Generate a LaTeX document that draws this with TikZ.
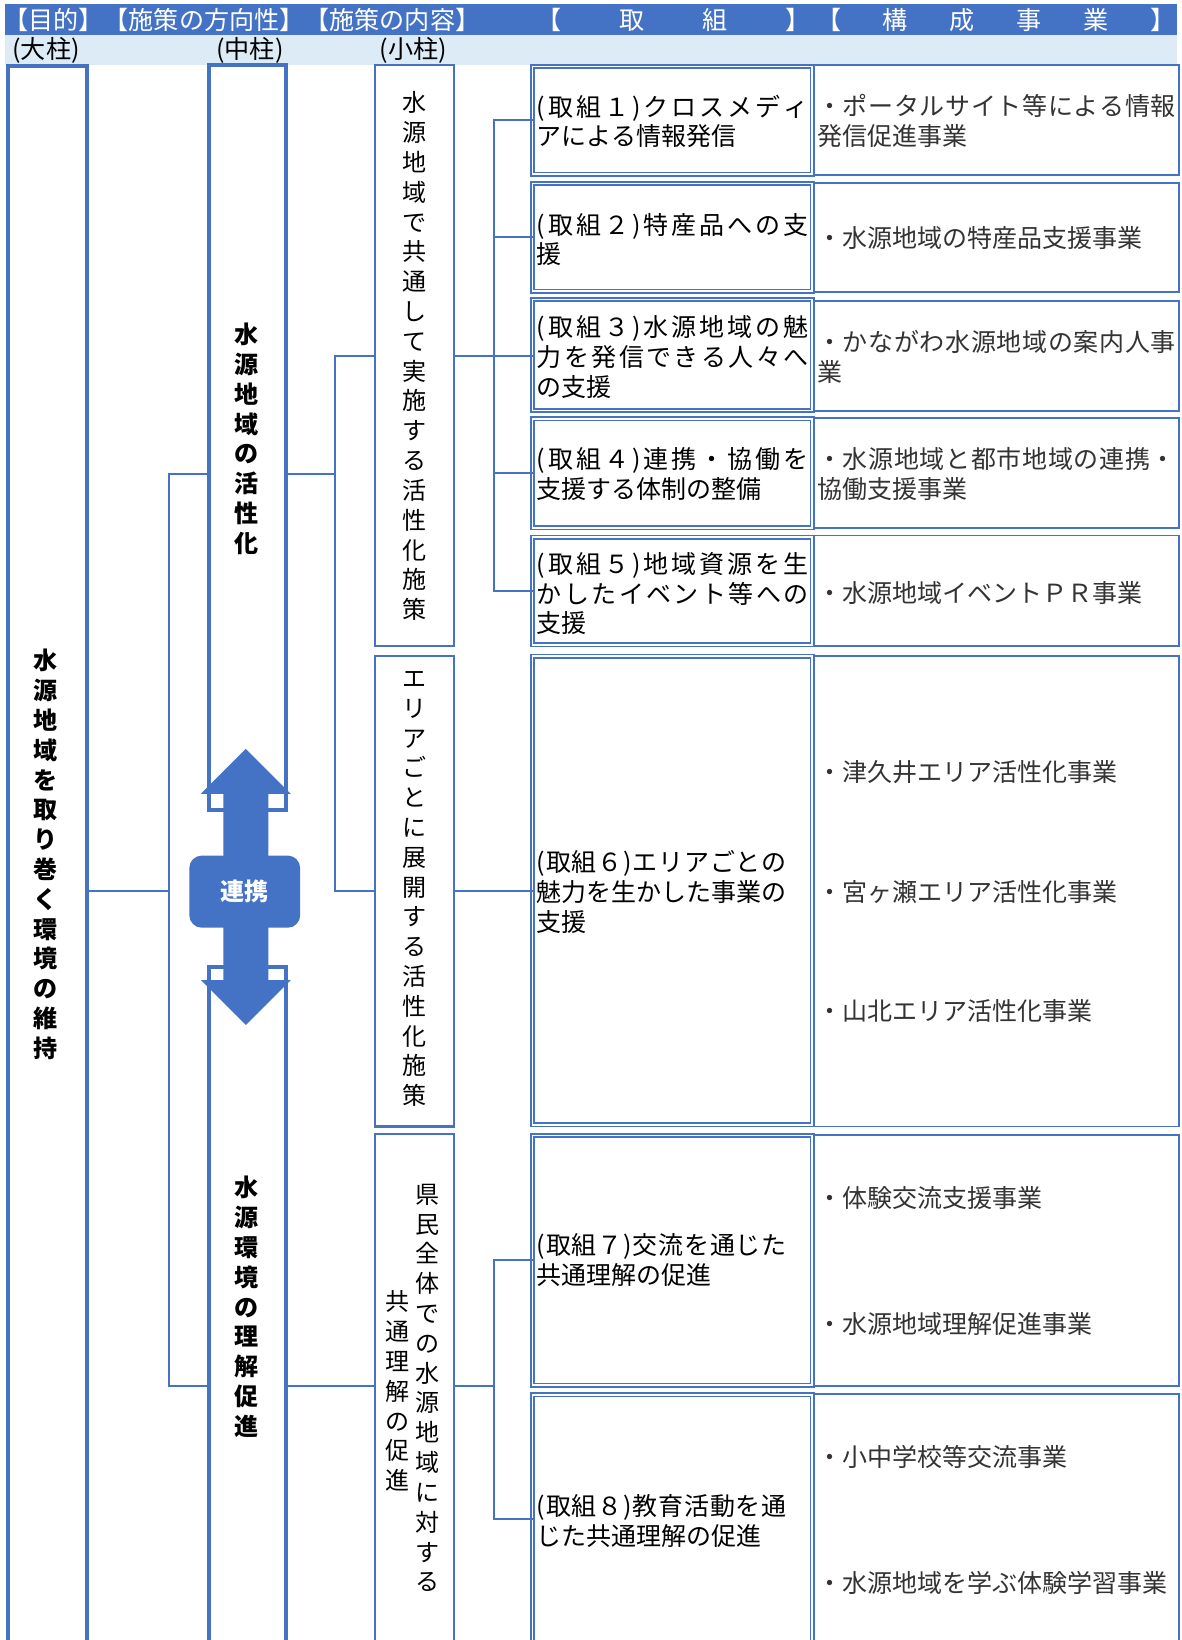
\documentclass[tikz,border=0pt]{standalone}
\usepackage{fontspec}
\setmainfont{Noto Sans CJK JP}
\definecolor{bl}{HTML}{4472C4}
\definecolor{lb}{HTML}{DDEBF7}
\makeatletter
\newcommand\spr[2]{\hbox to #1pt{\spr@a#2\relax}}
\def\spr@a#1{#1\futurelet\spr@next\spr@b}
\def\spr@b{\ifx\spr@next\relax\expandafter\@gobble\else\hfil\expandafter\spr@a\fi}
\newcommand\vt[1]{\vbox{\baselineskip=28.5pt\lineskiplimit=-100pt\lineskip=0pt\vt@a#1\relax}}
\def\vt@a#1{\ifx\relax#1\else\hbox to 1em{\hss#1\hss}\expandafter\vt@a\fi}
\makeatother
\begin{document}
\begin{tikzpicture}[x=1pt,y=-1pt,
 box/.style={draw=bl, anchor=north west, inner sep=0pt, outer sep=0pt, fill=white},
 thickbox/.style={box, line width=3.8pt},
 thinbox/.style={box, line width=2pt},
 dblbox/.style={box, line width=1.6pt, double=white, double distance=1.6pt},
 bizbox/.style={box, line width=1.8pt},
 conn/.style={draw=bl, line width=1.8pt},
 hdr/.style={anchor=west, inner sep=0pt, text=white, font=\fontsize{24}{28}\selectfont},
 sub/.style={inner sep=0pt, font=\fontsize{24}{28}\selectfont},
 jtext/.style={anchor=west, inner sep=0pt, align=left, font=\fontsize{23.9}{28.5}\selectfont},
 btext/.style={jtext, text=black!80},
 vtext/.style={inner sep=0pt, font=\fontsize{23}{28.5}\selectfont},
 vbold/.style={inner sep=0pt, font=\fontsize{23}{28.5}\selectfont\bfseries},
]
\useasboundingbox (0,0) rectangle (1129.2,1568);
\clip (0,0) rectangle (1129.2,1568);
% header bars
\fill[bl] (5,4) rectangle (1125,33);
\fill[lb] (5,33) rectangle (1125,62);
\node[hdr] (h1) at (3,19) {\spr{444}{【目的】【施策の方向性】【施策の内容】}};
\node[hdr] (h2) at (513,19) {\spr{262}{【取組】}};
\node[hdr] (h3) at (780,19) {\spr{344}{【構成事業】}};
\node[sub] (s1) at (44,48) {(大柱)};
\node[sub] (s2) at (239,48) {(中柱)};
\node[sub] (s3) at (395,48) {(小柱)};
% boxes
\node[thickbox, minimum width=75, minimum height=1520] (dai) at (8,63) {};
\node[thickbox, minimum width=74, minimum height=712] (chu1) at (199.5,62.5) {};
\node[thickbox, minimum width=74, minimum height=660] (chu2) at (199.5,924.5) {};
\node[thinbox, minimum width=75.5, minimum height=555.5] (sho1) at (358.5,62.5) {};
\node[thinbox, minimum width=75.5, minimum height=450] (sho2) at (358.5,627) {};
\node[thinbox, minimum width=75.5, minimum height=500] (sho3) at (358.5,1084) {};
\node[dblbox, minimum width=267.4, minimum height=103] (k1) at (509.2,63.5) {};
\node[dblbox, minimum width=267.4, minimum height=103] (k2) at (509.2,175.5) {};
\node[dblbox, minimum width=267.4, minimum height=106] (k3) at (509.2,286.5) {};
\node[dblbox, minimum width=267.4, minimum height=104] (k4) at (509.2,400.5) {};
\node[dblbox, minimum width=267.4, minimum height=103] (k5) at (509.2,513.5) {};
\node[dblbox, minimum width=267.4, minimum height=448] (k6) at (509.2,627.5) {};
\node[dblbox, minimum width=267.4, minimum height=239] (k7) at (509.2,1085.5) {};
\node[dblbox, minimum width=267.4, minimum height=238] (k8) at (509.2,1333.5) {};
\node[bizbox, minimum width=348.5, minimum height=104.5] (j1) at (778.5,62.5) {};
\node[bizbox, minimum width=348.5, minimum height=104] (j2) at (778.5,175) {};
\node[bizbox, minimum width=348.5, minimum height=105] (j3) at (778.5,288) {};
\node[bizbox, minimum width=348.5, minimum height=105] (j4) at (778.5,400) {};
\node[bizbox, minimum width=348.5, minimum height=106] (j5) at (778.5,512) {};
\node[bizbox, minimum width=348.5, minimum height=450] (j6) at (778.5,627) {};
\node[bizbox, minimum width=348.5, minimum height=240] (j7) at (778.5,1085) {};
\node[bizbox, minimum width=348.5, minimum height=238] (j8) at (778.5,1333) {};
% connectors
\coordinate (a) at (162,852);
\coordinate (a1) at (162,453);
\coordinate (a2) at (162,1325);
\coordinate (b1) at (320,340);
\coordinate (b2) at (320,852);
\coordinate (c) at (472,0);
\draw[conn] (dai.east |- a) -- (a);
\draw[conn] (chu1.west |- a1) -| (a2) -- (chu2.west |- a2);
\draw[conn] (chu1.east |- a1) -- (b1 |- a1);
\draw[conn] (sho1.west) -| (b2) -- (sho2.west);
\draw[conn] (sho1.east) -- (k3.west |- sho1.east);
\draw[conn] (k1.west) -| (c |- k5.west) -- (k5.west);
\draw[conn] (c |- k2.west) -- (k2.west);
\draw[conn] (c |- k4.west) -- (k4.west);
\draw[conn] (sho2.east) -- (k6.west |- sho2.east);
\draw[conn] (chu2.east |- a2) -- (sho3.west |- a2);
\draw[conn] (sho3.east |- a2) -- (c |- a2);
\draw[conn] (k7.west) -| (c |- k8.west) -- (k8.west);
% double arrow
\fill[bl] (235,716) -- (278,759) -- (256.5,759) -- (256.5,937) -- (278,937) -- (235,980) -- (192,937) -- (213.5,937) -- (213.5,759) -- (192,759) -- cycle;
\node[fill=bl, rounded corners=12pt, minimum width=106, minimum height=69, inner sep=0pt, text=white, font=\fontsize{23}{28}\selectfont\bfseries] (rk) at (234,852.5) {連携};
% vertical texts
\node[vbold] (tdai) at (44,817) {\vt{水源地域を取り巻く環境の維持}};
\node[vbold] (tchu1) at (236,419.5) {\vt{水源地域の活性化}};
\node[vbold] (tchu2) at (236,1249.5) {\vt{水源環境の理解促進}};
\node[vtext] (tsho1) at (396,340.5) {\vt{水源地域で共通して実施する活性化施策}};
\node[vtext] (tsho2) at (396,850) {\vt{エリアごとに展開する活性化施策}};
\node[vtext] (tsho3a) at (409,1327) {\vt{県民全体での水源地域に対する}};
\node[vtext] (tsho3b) at (380,1330) {\vt{共通理解の促進}};
% 取組 texts
\node[jtext] (t1) at (513,116) {\spr{260}{(取組１)クロスメディ}\\アによる情報発信};
\node[jtext] (t2) at (513,229) {\spr{260}{(取組２)特産品への支}\\援};
\node[jtext] (t3) at (513,341.5) {\spr{260}{(取組３)水源地域の魅}\\\spr{260}{力を発信できる人々へ}\\の支援};
\node[jtext] (t4) at (513,453) {\spr{260}{(取組４)連携・協働を}\\支援する体制の整備};
\node[jtext] (t5) at (513,567.5) {\spr{260}{(取組５)地域資源を生}\\\spr{260}{かしたイベント等への}\\支援};
\node[jtext] (t6) at (513,853) {\spr{239}{(取組６)エリアごとの}\\魅力を生かした事業の\\支援};
\node[jtext] (t7) at (513,1204.5) {\spr{239}{(取組７)交流を通じた}\\共通理解の促進};
\node[jtext] (t8) at (513,1454) {\spr{239}{(取組８)教育活動を通}\\じた共通理解の促進};
% 構成事業 texts
\node[btext] (u1) at (781,116) {\spr{343}{・ポータルサイト等による情報}\\発信促進事業};
\node[btext] (u2) at (781,228) {・水源地域の特産品支援事業};
\node[btext] (u3) at (781,341) {\spr{343}{・かながわ水源地域の案内人事}\\業};
\node[btext] (u4) at (781,453) {\spr{343}{・水源地域と都市地域の連携・}\\協働支援事業};
\node[btext] (u5) at (781,567) {・水源地域イベントＰＲ事業};
\node[btext] (u6a) at (781,738) {・津久井エリア活性化事業};
\node[btext] (u6b) at (781,853) {・宮ヶ瀬エリア活性化事業};
\node[btext] (u6c) at (781,967) {・山北エリア活性化事業};
\node[btext] (u7a) at (781,1145) {・体験交流支援事業};
\node[btext] (u7b) at (781,1266) {・水源地域理解促進事業};
\node[btext] (u8a) at (781,1393) {・小中学校等交流事業};
\node[btext] (u8b) at (781,1513) {・水源地域を学ぶ体験学習事業};
\end{tikzpicture}
\end{document}
